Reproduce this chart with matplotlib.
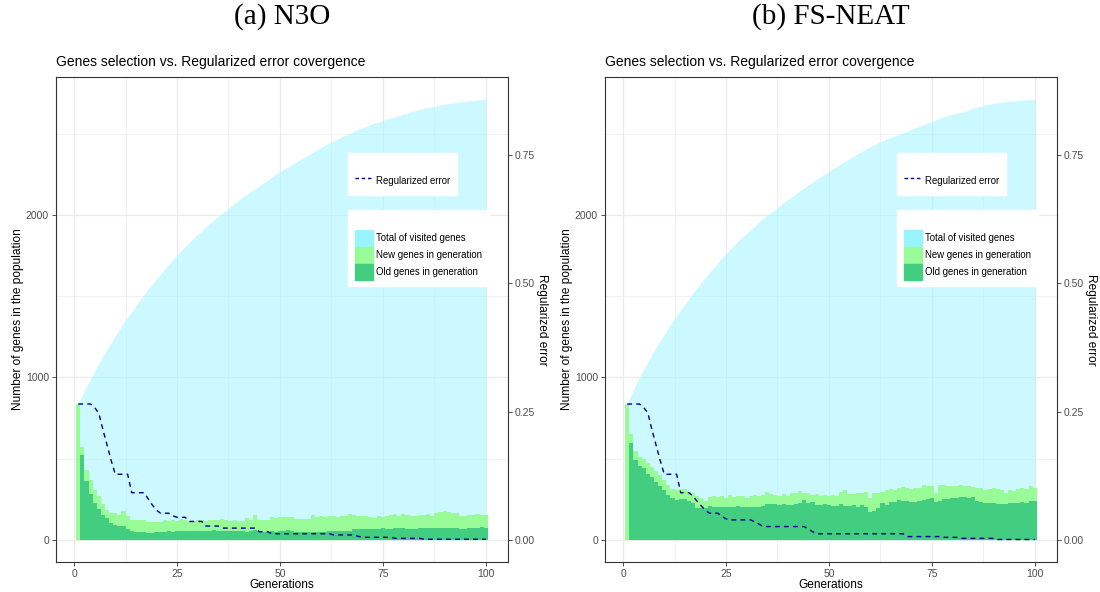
import numpy as np
import matplotlib
matplotlib.use("Agg")
import matplotlib.pyplot as plt
from matplotlib.lines import Line2D
from matplotlib.patches import Patch

plt.rcParams['font.family'] = ['Liberation Sans', 'DejaVu Sans']

# generations 1..100
generations = list(range(1, 101))

# (a) N3O
n3o_total = [
    840, 890, 945, 990, 1040, 1085, 1130, 1175, 1215, 1255,
    1295, 1335, 1370, 1405, 1440, 1475, 1510, 1545, 1575, 1605,
    1635, 1665, 1695, 1725, 1750, 1780, 1805, 1830, 1855, 1880,
    1900, 1925, 1950, 1970, 1990, 2010, 2030, 2050, 2070, 2090,
    2110, 2125, 2145, 2160, 2180, 2195, 2215, 2230, 2250, 2265,
    2280, 2295, 2310, 2325, 2340, 2355, 2370, 2385, 2400, 2415,
    2430, 2445, 2455, 2465, 2480, 2490, 2500, 2515, 2525, 2535,
    2545, 2555, 2565, 2570, 2580, 2590, 2595, 2605, 2610, 2620,
    2625, 2635, 2640, 2650, 2655, 2660, 2665, 2670, 2675, 2680,
    2685, 2688, 2692, 2695, 2698, 2700, 2703, 2706, 2708, 2712]
n3o_old = [
    0, 523, 363, 283, 230, 193, 156, 133, 107, 90,
    86, 86, 70, 57, 49, 49, 49, 45, 45, 49,
    51, 51, 57, 51, 57, 57, 57, 57, 53, 57,
    57, 57, 57, 61, 57, 57, 57, 57, 57, 57,
    57, 51, 57, 61, 57, 51, 51, 57, 51, 57,
    57, 61, 57, 51, 51, 51, 51, 51, 51, 51,
    51, 57, 57, 57, 57, 57, 57, 68, 68, 68,
    68, 68, 68, 68, 72, 68, 68, 72, 72, 72,
    68, 68, 68, 72, 72, 72, 72, 76, 76, 76,
    76, 72, 72, 68, 68, 72, 72, 76, 82, 76]
n3o_new = [
    836, 47, 67, 86, 77, 78, 65, 51, 57, 74,
    68, 92, 74, 66, 74, 74, 74, 66, 66, 62,
    60, 72, 62, 72, 62, 70, 66, 62, 66, 66,
    66, 62, 66, 62, 66, 70, 66, 62, 66, 62,
    62, 82, 66, 93, 66, 72, 72, 82, 82, 82,
    82, 78, 82, 76, 76, 76, 76, 103, 88, 93,
    88, 91, 87, 82, 87, 87, 103, 86, 80, 76,
    76, 71, 65, 76, 67, 76, 86, 88, 72, 88,
    86, 76, 76, 82, 82, 88, 76, 92, 96, 100,
    98, 92, 92, 80, 80, 80, 80, 84, 72, 78]
n3o_error = [
    0.265, 0.265, 0.265, 0.265, 0.258, 0.247, 0.215, 0.185, 0.155, 0.128,
    0.128, 0.128, 0.128, 0.092, 0.092, 0.092, 0.092, 0.080, 0.068, 0.058,
    0.052, 0.052, 0.052, 0.047, 0.044, 0.044, 0.044, 0.036, 0.036, 0.036,
    0.036, 0.027, 0.027, 0.027, 0.027, 0.023, 0.023, 0.023, 0.023, 0.023,
    0.023, 0.023, 0.023, 0.023, 0.016, 0.016, 0.016, 0.012, 0.012, 0.012,
    0.012, 0.012, 0.012, 0.012, 0.012, 0.012, 0.012, 0.012, 0.012, 0.012,
    0.012, 0.012, 0.0097, 0.0097, 0.0097, 0.0097, 0.0097, 0.0097, 0.007, 0.005,
    0.005, 0.005, 0.005, 0.005, 0.005, 0.005, 0.005, 0.003, 0.003, 0.003,
    0.003, 0.003, 0.003, 0.003, 0.0013, 0.0013, 0.0013, 0.0013, 0.0013, 0.0013,
    0.0013, 0.0013, 0.0013, 0.0013, 0.0013, 0.0013, 0.0013, 0.0013, 0.0013, 0.0013]

# (b) FS-NEAT
fsneat_total = [
    840, 895, 950, 1000, 1050, 1095, 1140, 1185, 1225, 1265,
    1305, 1345, 1380, 1415, 1450, 1485, 1520, 1550, 1585, 1615,
    1645, 1675, 1705, 1735, 1760, 1790, 1815, 1840, 1865, 1885,
    1910, 1930, 1955, 1975, 1995, 2015, 2035, 2055, 2075, 2095,
    2110, 2130, 2150, 2165, 2185, 2200, 2220, 2235, 2250, 2265,
    2285, 2300, 2315, 2330, 2345, 2360, 2375, 2390, 2405, 2420,
    2430, 2445, 2455, 2465, 2475, 2485, 2495, 2505, 2515, 2525,
    2535, 2545, 2555, 2565, 2575, 2585, 2595, 2605, 2612, 2620,
    2625, 2630, 2635, 2645, 2655, 2665, 2670, 2675, 2680, 2685,
    2690, 2693, 2696, 2698, 2700, 2702, 2705, 2707, 2709, 2712]
fsneat_old = [
    0, 599, 492, 455, 441, 406, 389, 359, 332, 307,
    277, 256, 246, 250, 250, 242, 225, 195, 195, 195,
    209, 201, 205, 205, 201, 201, 201, 209, 205, 201,
    205, 201, 201, 209, 221, 221, 221, 213, 221, 213,
    217, 221, 230, 246, 225, 236, 215, 215, 221, 215,
    209, 209, 221, 209, 209, 215, 201, 215, 205, 174,
    180, 195, 225, 215, 236, 236, 246, 242, 242, 236,
    236, 242, 246, 250, 256, 236, 242, 250, 250, 256,
    256, 262, 262, 256, 262, 242, 236, 230, 225, 230,
    221, 221, 221, 230, 225, 230, 236, 230, 242, 242]
fsneat_new = [
    836, 53, 57, 57, 55, 66, 62, 67, 68, 62,
    61, 56, 64, 62, 62, 55, 62, 76, 61, 47,
    53, 70, 57, 62, 55, 76, 61, 62, 66, 55,
    62, 76, 66, 68, 74, 62, 56, 58, 62, 58,
    70, 70, 73, 45, 62, 41, 68, 56, 56, 52,
    68, 62, 76, 98, 74, 68, 86, 76, 92, 82,
    111, 96, 72, 92, 76, 71, 72, 86, 76, 76,
    82, 76, 92, 82, 76, 51, 96, 86, 82, 76,
    76, 76, 70, 76, 66, 76, 82, 77, 87, 88,
    91, 86, 70, 77, 78, 82, 82, 82, 90, 76]
fsneat_error = [
    0.265, 0.265, 0.265, 0.265, 0.258, 0.248, 0.215, 0.185, 0.155, 0.128,
    0.128, 0.128, 0.128, 0.092, 0.092, 0.092, 0.085, 0.075, 0.066, 0.058,
    0.052, 0.052, 0.052, 0.046, 0.041, 0.039, 0.039, 0.039, 0.039, 0.039,
    0.039, 0.035, 0.031, 0.026, 0.026, 0.026, 0.026, 0.026, 0.026, 0.026,
    0.026, 0.026, 0.026, 0.026, 0.021, 0.016, 0.012, 0.012, 0.012, 0.012,
    0.012, 0.012, 0.012, 0.012, 0.012, 0.012, 0.012, 0.012, 0.012, 0.012,
    0.012, 0.012, 0.012, 0.012, 0.012, 0.012, 0.012, 0.012, 0.0065, 0.0065,
    0.0065, 0.0065, 0.0065, 0.0065, 0.0065, 0.0065, 0.0065, 0.005, 0.005, 0.005,
    0.005, 0.003, 0.003, 0.003, 0.003, 0.003, 0.003, 0.003, 0.003, 0.003,
    0.0008, 0.0008, 0.0008, 0.0008, 0.0008, 0.0008, 0.0008, 0.0008, 0.0008, 0.0008]

x_ticks = [0, 25, 50, 75, 100]
y_ticks = [0, 1000, 2000]
err_ticks = [0.0, 0.25, 0.5, 0.75]
err_tick_labels = ['0.00', '0.25', '0.50', '0.75']

# colours (ggplot names: cadetblue1, palegreen, seagreen3, darkblue)
C_TOTAL = '#98F5FF'
C_NEW = '#98FB98'
C_OLD = '#43CD80'
C_ERR = '#00008B'
ERR_SCALE = 3155.0   # secondary axis: error * scale = genes
DASH = (0, (3.5, 3))

W, H = 1100.0, 592.0
YLIM = (-136, 2848)
XLIM = (-4.4, 105.4)
TICK_FS = 7.5


def draw_panel(left_px, total, old, new, err, panel_title):
    ax = fig.add_axes([left_px / W, 1 - 562 / H, 452 / W, 485 / H])
    ax.set_axisbelow(True)
    ax.fill_between(generations, 0, total, color=C_TOTAL, alpha=0.5, lw=0, zorder=1)
    ax.bar(generations, old, width=1.0, color=C_OLD, lw=0, zorder=2)
    ax.bar(generations, new, bottom=old, width=1.0, color=C_NEW, lw=0, zorder=2)

    ax.set_xlim(*XLIM)
    ax.set_ylim(*YLIM)
    ax.set_xticks(x_ticks)
    ax.set_yticks(y_ticks)
    ax.set_xticks([12.5, 37.5, 62.5, 87.5], minor=True)
    ax.set_yticks([500, 1500, 2500], minor=True)
    ax.grid(True, which='major', color='#EBEBEB', lw=0.9)
    ax.grid(True, which='minor', color='#EBEBEB', lw=0.5)
    ax.tick_params(which='minor', length=0)
    ax.tick_params(which='major', length=3, width=0.6, color='#333333',
                   labelsize=TICK_FS, labelcolor='#4D4D4D', pad=2)
    for s in ax.spines.values():
        s.set_color('#333333')
        s.set_linewidth(0.8)
    ax.set_xlabel('Generations', fontsize=8.6, labelpad=0)
    ax.set_ylabel('Number of genes in the population', fontsize=8.6, labelpad=1.5)

    ax2 = ax.twinx()
    ax2.plot(generations, err, color=C_ERR, ls=DASH, lw=1.0, zorder=3)
    ax2.set_ylim(YLIM[0] / ERR_SCALE, YLIM[1] / ERR_SCALE)
    ax2.set_yticks(err_ticks)
    ax2.set_yticklabels(err_tick_labels)
    ax2.tick_params(length=3, width=0.6, color='#333333',
                    labelsize=TICK_FS, labelcolor='#4D4D4D', pad=2)
    for s in ax2.spines.values():
        s.set_visible(False)
    ax2.set_ylabel('Regularized error', fontsize=8.6, rotation=270, labelpad=9)

    # subtitle and panel caption
    fig.text(left_px / W, 1 - 62 / H, 'Genes selection vs. Regularized error covergence',
             fontsize=10, va='center', ha='left', color='black')
    fig.text((left_px + 226) / W, 1 - 17 / H, panel_title, fontsize=21,
             family='Liberation Serif', va='center', ha='center')

    # legends
    leg_kw = dict(loc='upper left', bbox_transform=fig.transFigure, frameon=True,
                  fancybox=False, edgecolor='white', facecolor='white', framealpha=1,
                  prop={'family': 'Liberation Sans', 'size': 6.9},
                  title=' ', title_fontsize=9, borderaxespad=0,
                  borderpad=0.7, handlelength=1.9, handleheight=2.2,
                  handletextpad=0.35, labelspacing=0.1)
    err_handle = [Line2D([], [], color=C_ERR, ls=(0, (2.5, 2)), lw=1.0)]
    fig.legend(err_handle, ['Regularized error'],
               bbox_to_anchor=((left_px + 292) / W, 1 - 153 / H), **leg_kw)
    fill_handles = [Patch(color=C_TOTAL), Patch(color=C_NEW), Patch(color=C_OLD)]
    fig.legend(fill_handles, ['Total of visited genes', 'New genes in generation',
                              'Old genes in generation'],
               bbox_to_anchor=((left_px + 292) / W, 1 - 210 / H), **leg_kw)
    return ax


fig = plt.figure(figsize=(11, 5.92), dpi=100)
draw_panel(56, n3o_total, n3o_old, n3o_new, n3o_error, '(a) N3O')
draw_panel(605, fsneat_total, fsneat_old, fsneat_new, fsneat_error, '(b) FS-NEAT')

fig.savefig('out.png', dpi=100)
